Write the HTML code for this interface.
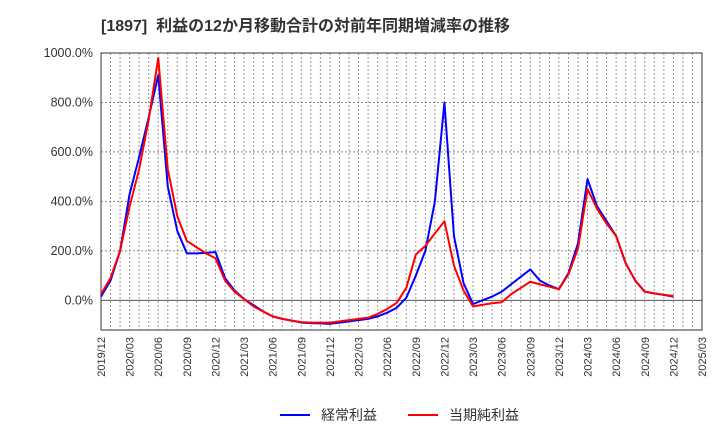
<!DOCTYPE html>
<html><head><meta charset="utf-8"><style>
body{margin:0;background:#fff;font-family:"Liberation Sans","Noto Sans CJK JP",sans-serif;}
svg text{font-family:"Liberation Sans","Noto Sans CJK JP",sans-serif;}
</style></head><body>
<svg id="c" width="720" height="440" xmlns="http://www.w3.org/2000/svg">
<text x="101" y="31" font-size="16" font-weight="bold" fill="#333" xml:space="preserve" style="white-space:pre">[1897]  利益の12か月移動合計の対前年同期増減率の推移</text>
<g id="grid"></g><g id="axes"></g><g id="series"></g>
<g>
<line x1="280" y1="415" x2="310" y2="415" stroke="#0000ff" stroke-width="2"/>
<text x="321" y="420" font-size="14" fill="#333">経常利益</text>
<line x1="408" y1="415" x2="438" y2="415" stroke="#ff0000" stroke-width="2"/>
<text x="449" y="420" font-size="14" fill="#333">当期純利益</text>
</g>
</svg>
<script>
const yTicks = [0,200,400,600,800,1000];
const xTickLabels = ["2019/12","2020/03","2020/06","2020/09","2020/12","2021/03","2021/06","2021/09","2021/12","2022/03","2022/06","2022/09","2022/12","2023/03","2023/06","2023/09","2023/12","2024/03","2024/06","2024/09","2024/12","2025/03"];
const keijo = [15,80,200,430,580,740,910,460,280,190,190,192,195,90,40,5,-20,-45,-65,-75,-82,-90,-92,-93,-95,-90,-85,-80,-75,-65,-50,-30,10,100,200,400,800,260,70,-15,0,15,35,65,95,125,80,60,45,110,230,490,380,320,260,150,80,35,28,22,15];
const junrieki = [25,90,200,380,530,730,980,530,340,240,215,190,170,80,35,5,-25,-45,-65,-75,-82,-88,-90,-90,-90,-85,-80,-75,-70,-55,-35,-10,50,185,220,270,320,140,40,-25,-18,-12,-8,25,50,75,65,55,45,105,210,450,370,310,260,150,80,35,28,22,18];

const L=101,R=702,T=53,B=330,yMin=-120,yMax=1000;
const X=i=>L+i*(R-L)/63;
const Y=v=>T+(yMax-v)*(B-T)/(yMax-yMin);
const NS="http://www.w3.org/2000/svg";
function mk(tag,attrs,parent){const e=document.createElementNS(NS,tag);for(const k in attrs)e.setAttribute(k,attrs[k]);parent.appendChild(e);return e;}
const grid=document.getElementById('grid'),axes=document.getElementById('axes'),ser=document.getElementById('series');
for(let i=1;i<63;i++){const l=mk('line',{x1:X(i),x2:X(i),y1:T,y2:B,stroke:'#999','stroke-dasharray':'2,2','stroke-width':1},grid);

}
yTicks.forEach(v=>{const l=mk('line',{x1:L,x2:R,y1:Y(v),y2:Y(v),stroke:v===0?'#555':'#888','stroke-dasharray':v===0?'none':'2,2','stroke-width':1},grid);


const t=mk('text',{x:L-8,y:Y(v)+4,'font-size':12.5,fill:'#333','text-anchor':'end'},axes);t.textContent=v.toFixed(1)+'%';

});
const fr=mk('rect',{x:L,y:T,width:R-L,height:B-T,fill:'none',stroke:'#333','stroke-width':1},axes);


xTickLabels.forEach((s,k)=>{const x=X(k*3)+4;const t=mk('text',{x:x,y:337,'font-size':11,fill:'#333','text-anchor':'end',transform:`rotate(-90 ${x} 337)`},axes);t.textContent=s;

});
function line(data,color,name){const p=mk('polyline',{points:data.map((v,i)=>X(i)+','+Y(v)).join(' '),fill:'none',stroke:color,'stroke-width':2,'stroke-linejoin':'round'},ser);

}
line(keijo,'#0000ff','series-keijo-line');
line(junrieki,'#ff0000','series-junrieki-line');
</script>
</body></html>
